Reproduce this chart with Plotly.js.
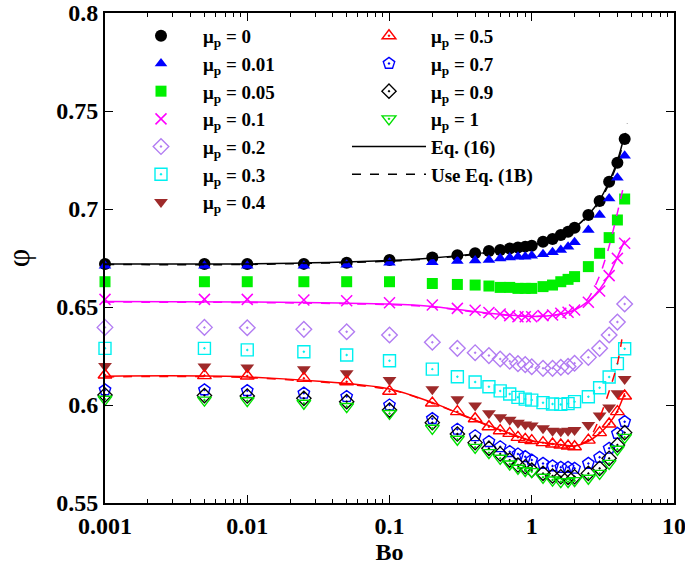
<!DOCTYPE html>
<html>
<head>
<meta charset="utf-8">
<script src="https://cdn.plot.ly/plotly-3.0.1.min.js"></script>
<style>html,body{margin:0;padding:0;background:#fff;}#chart{width:685px;height:572px;}</style>
</head>
<body>
<div id="chart"></div>
<script>
// ---- data ----
const Bo = [0.001, 0.005, 0.01, 0.025, 0.05, 0.1, 0.2, 0.3, 0.4, 0.5, 0.6, 0.7, 0.8, 0.9, 1.0, 1.2, 1.4, 1.6, 1.8, 2.0, 2.5, 3.0, 3.5, 4.0, 4.5];

const phi_mu0   = [0.6719, 0.6719, 0.6719, 0.6720, 0.6726, 0.6740, 0.6753, 0.6764, 0.6774, 0.6786, 0.6791, 0.6799, 0.6803, 0.6808, 0.6813, 0.6833, 0.6847, 0.6867, 0.6884, 0.6904, 0.6969, 0.7041, 0.7139, 0.7236, 0.7357];
const phi_mu001 = [0.6710, 0.6710, 0.6710, 0.6711, 0.6715, 0.6726, 0.6728, 0.6735, 0.6737, 0.6740, 0.6748, 0.6752, 0.6757, 0.6757, 0.6762, 0.6769, 0.6779, 0.6791, 0.6808, 0.6830, 0.6893, 0.6969, 0.7054, 0.7160, 0.7272];
const phi_mu005 = [0.6629, 0.6629, 0.6629, 0.6629, 0.6629, 0.6629, 0.6620, 0.6615, 0.6612, 0.6607, 0.6600, 0.6600, 0.6595, 0.6595, 0.6595, 0.6604, 0.6612, 0.6629, 0.6641, 0.6655, 0.6706, 0.6774, 0.6854, 0.6944, 0.7051];
const phi_mu01  = [0.6539, 0.6539, 0.6539, 0.6536, 0.6532, 0.6522, 0.6510, 0.6493, 0.6483, 0.6472, 0.6464, 0.6456, 0.6450, 0.6450, 0.6450, 0.6456, 0.6459, 0.6468, 0.6473, 0.6485, 0.6524, 0.6582, 0.6660, 0.6748, 0.6825];
const phi_mu02  = [0.6396, 0.6396, 0.6394, 0.6386, 0.6374, 0.6357, 0.6320, 0.6289, 0.6267, 0.6252, 0.6235, 0.6223, 0.6211, 0.6206, 0.6195, 0.6187, 0.6187, 0.6192, 0.6197, 0.6213, 0.6243, 0.6289, 0.6357, 0.6423, 0.6515];
const phi_mu03  = [0.6289, 0.6289, 0.6281, 0.6272, 0.6255, 0.6226, 0.6183, 0.6144, 0.6117, 0.6093, 0.6072, 0.6056, 0.6039, 0.6030, 0.6025, 0.6012, 0.6005, 0.6003, 0.6007, 0.6017, 0.6042, 0.6088, 0.6143, 0.6211, 0.6287];
const phi_mu04  = [0.6199, 0.6196, 0.6191, 0.6182, 0.6162, 0.6128, 0.6080, 0.6029, 0.5998, 0.5958, 0.5937, 0.5925, 0.5910, 0.5900, 0.5895, 0.5881, 0.5868, 0.5866, 0.5868, 0.5872, 0.5898, 0.5947, 0.5987, 0.6060, 0.6133];
const phi_mu05  = [0.6153, 0.6150, 0.6148, 0.6136, 0.6119, 0.6070, 0.6010, 0.5966, 0.5930, 0.5889, 0.5869, 0.5855, 0.5835, 0.5825, 0.5818, 0.5808, 0.5801, 0.5796, 0.5791, 0.5787, 0.5821, 0.5859, 0.5903, 0.5966, 0.6046];
const phi_mu07  = [0.6077, 0.6077, 0.6073, 0.6060, 0.6043, 0.6000, 0.5930, 0.5876, 0.5843, 0.5813, 0.5787, 0.5762, 0.5750, 0.5736, 0.5719, 0.5702, 0.5689, 0.5682, 0.5682, 0.5677, 0.5702, 0.5733, 0.5779, 0.5855, 0.5915];
const phi_mu09  = [0.6051, 0.6048, 0.6046, 0.6034, 0.6017, 0.5974, 0.5910, 0.5852, 0.5808, 0.5779, 0.5750, 0.5719, 0.5694, 0.5685, 0.5668, 0.5651, 0.5638, 0.5634, 0.5631, 0.5634, 0.5651, 0.5677, 0.5728, 0.5796, 0.5859];
const phi_mu1   = [0.6029, 0.6025, 0.6022, 0.6009, 0.5992, 0.5957, 0.5881, 0.5825, 0.5784, 0.5757, 0.5728, 0.5699, 0.5677, 0.5665, 0.5660, 0.5631, 0.5617, 0.5609, 0.5609, 0.5614, 0.5626, 0.5651, 0.5702, 0.5774, 0.5835];

// model curves
const BoEq16     = [0.001, 0.01, 0.1, 0.2, 0.5, 1.0, 1.5, 2.0, 2.5, 3.0, 3.5, 4.0, 4.5];
const eq16_mu0   = [0.6720, 0.6720, 0.6737, 0.6750, 0.6780, 0.6817, 0.6855, 0.6905, 0.6970, 0.7045, 0.7140, 0.7245, 0.7380];
const eq16_mu01  = [0.6528, 0.6526, 0.6515, 0.6503, 0.6468, 0.6452, 0.6460, 0.6485, 0.6530, 0.6590, 0.6665, 0.6755, 0.6840];
const eq16_mu05  = [0.6147, 0.6143, 0.6082, 0.6012, 0.5895, 0.5818, 0.5800, 0.5791, 0.5815, 0.5855, 0.5905, 0.5970, 0.6060];

const BoEq1B_mu0  = [0.001, 0.01, 0.1, 0.2, 0.5, 1.0, 1.5, 2.0, 2.5, 3.0, 3.5, 4.0, 4.5, 4.7];
const eq1B_mu0    = [0.6717, 0.6717, 0.6734, 0.6747, 0.6777, 0.6814, 0.6852, 0.6902, 0.6965, 0.7038, 0.7130, 0.7235, 0.7365, 0.7435];
const BoEq1B_mu01 = [0.001, 0.01, 0.1, 0.2, 0.5, 1.0, 1.5, 2.0, 2.5, 3.0, 3.5, 4.0, 4.4];
const eq1B_mu01   = [0.6525, 0.6523, 0.6512, 0.6500, 0.6466, 0.6451, 0.6460, 0.6487, 0.6545, 0.6660, 0.6810, 0.6980, 0.7110];
const BoEq1B_mu05 = [0.001, 0.01, 0.1, 0.2, 0.5, 1.0, 1.5, 2.0, 2.5, 3.0, 3.5, 4.0, 4.3];
const eq1B_mu05   = [0.6144, 0.6140, 0.6079, 0.6010, 0.5893, 0.5816, 0.5798, 0.5792, 0.5822, 0.5935, 0.6070, 0.6210, 0.6335];

const seriesNames = ['0', '0.01', '0.05', '0.1', '0.2', '0.3', '0.4', '0.5', '0.7', '0.9', '1'];
const lineNames = ['Eq. (16)', 'Use Eq. (1B)'];

const xTickVals = [0.001, 0.01, 0.1, 1, 10];
const xTickText = ['0.001', '0.01', '0.1', '1', '10'];
const xMinorTicks = [0.002,0.003,0.004,0.005,0.006,0.007,0.008,0.009,
                     0.02,0.03,0.04,0.05,0.06,0.07,0.08,0.09,
                     0.2,0.3,0.4,0.5,0.6,0.7,0.8,0.9,
                     2,3,4,5,6,7,8,9];
const yTickVals = [0.55, 0.6, 0.65, 0.7, 0.75, 0.8];
const yTickText = ['0.55', '0.6', '0.65', '0.7', '0.75', '0.8'];

// ---- traces ----
const FONT = 'Liberation Serif';
const ys = [phi_mu0, phi_mu001, phi_mu005, phi_mu01, phi_mu02, phi_mu03, phi_mu04, phi_mu05, phi_mu07, phi_mu09, phi_mu1];
const styles = [
  {symbol:'circle', color:'#000000', size:12, lw:0},
  {symbol:'triangle-up', color:'#0000ff', size:11, lw:0},
  {symbol:'square', color:'#00f000', size:11, lw:0},
  {symbol:'x-thin-open', color:'#ff00ff', size:11, lw:1.5},
  {symbol:'diamond-open-dot', color:'#b27cf2', size:12, lw:1.4},
  {symbol:'square-open-dot', color:'#00f0f0', size:12, lw:1.4},
  {symbol:'triangle-down', color:'#9e2a2a', size:12, lw:0},
  {symbol:'triangle-up-open-dot', color:'#ff0000', size:12, lw:1.4},
  {symbol:'pentagon-open-dot', color:'#0000ff', size:12, lw:1.4},
  {symbol:'diamond-open-dot', color:'#000000', size:11, lw:1.3},
  {symbol:'triangle-down-open-dot', color:'#00e000', size:12, lw:1.4}
];
const traces = [];
ys.forEach((y, i) => {
  const s = styles[i];
  traces.push({
    type:'scatter', mode:'markers', x:Bo, y:y, cliponaxis:false,
    name:'<b>μ<sub>p</sub> = ' + seriesNames[i] + '</b>',
    legend: i < 7 ? 'legend' : 'legend2',
    marker:{symbol:s.symbol, color:s.color, size:s.size,
            line:{color:s.color, width:s.lw}}
  });
});
function curve(x, y, color, dash, name, show) {
  return {type:'scatter', mode:'lines', x:x, y:y, name:name, showlegend:show,
          legend:'legend2', cliponaxis:false,
          line:{color:color, width:1.5, dash:dash, shape:'spline', smoothing:0.8}};
}
traces.push(curve(BoEq16, eq16_mu0, '#000000', 'solid', '<b>' + lineNames[0] + '</b>', true));
traces.push(curve(BoEq1B_mu0, eq1B_mu0, '#000000', 'dash', '<b>' + lineNames[1] + '</b>', true));
traces.push(curve(BoEq16, eq16_mu01, '#ff00ff', 'solid', '', false));
traces.push(curve(BoEq1B_mu01, eq1B_mu01, '#ff00ff', 'dash', '', false));
traces.push(curve(BoEq16, eq16_mu05, '#ff0000', 'solid', '', false));
traces.push(curve(BoEq1B_mu05, eq1B_mu05, '#ff0000', 'dash', '', false));

const legendFont = {family:FONT, size:19, color:'#000', weight:'bold'};
const layout = {
  width:685, height:572,
  margin:{l:105, r:11, t:13, b:69},
  paper_bgcolor:'#fff', plot_bgcolor:'#fff',
  font:{family:FONT, color:'#000'},
  showlegend:true,
  xaxis:{
    type:'log', range:[-3, 1],
    tickmode:'array', tickvals:xTickVals, ticktext:xTickText,
    ticks:'inside', ticklen:8, tickwidth:1, tickcolor:'#000',
    minor:{tickmode:'array', tickvals:xMinorTicks, ticks:'inside', ticklen:4, tickwidth:1, tickcolor:'#000', showgrid:false},
    showline:true, linewidth:2, linecolor:'#000', mirror:'allticks',
    showgrid:false, zeroline:false, ticklabeloverflow:'allow',
    tickfont:{family:FONT, size:24, color:'#000', weight:'bold'},
    title:{text:'Bo', font:{family:FONT, size:24, color:'#000', weight:'bold'}, standoff:3}
  },
  yaxis:{
    range:[0.55, 0.8],
    tickmode:'array', tickvals:yTickVals, ticktext:yTickText,
    ticks:'inside', ticklen:8, tickwidth:1, tickcolor:'#000',
    showline:true, linewidth:2, linecolor:'#000', mirror:'allticks',
    showgrid:false, zeroline:false,
    tickfont:{family:FONT, size:24, color:'#000', weight:'bold'},
    title:{text:'φ', font:{family:FONT, size:32, color:'#000'}, standoff:20}
  },
  legend:{x:0.0246, y:0.992, xanchor:'left', yanchor:'top', bgcolor:'rgba(0,0,0,0)', borderwidth:0,
          font:legendFont, tracegroupgap:0, itemwidth:74},
  legend2:{x:0.4253, y:0.992, xanchor:'left', yanchor:'top', bgcolor:'rgba(0,0,0,0)', borderwidth:0,
           font:legendFont, tracegroupgap:0, itemwidth:74}
};

Plotly.newPlot('chart', traces, layout, {displayModeBar:false, staticPlot:true});
</script>
</body>
</html>
